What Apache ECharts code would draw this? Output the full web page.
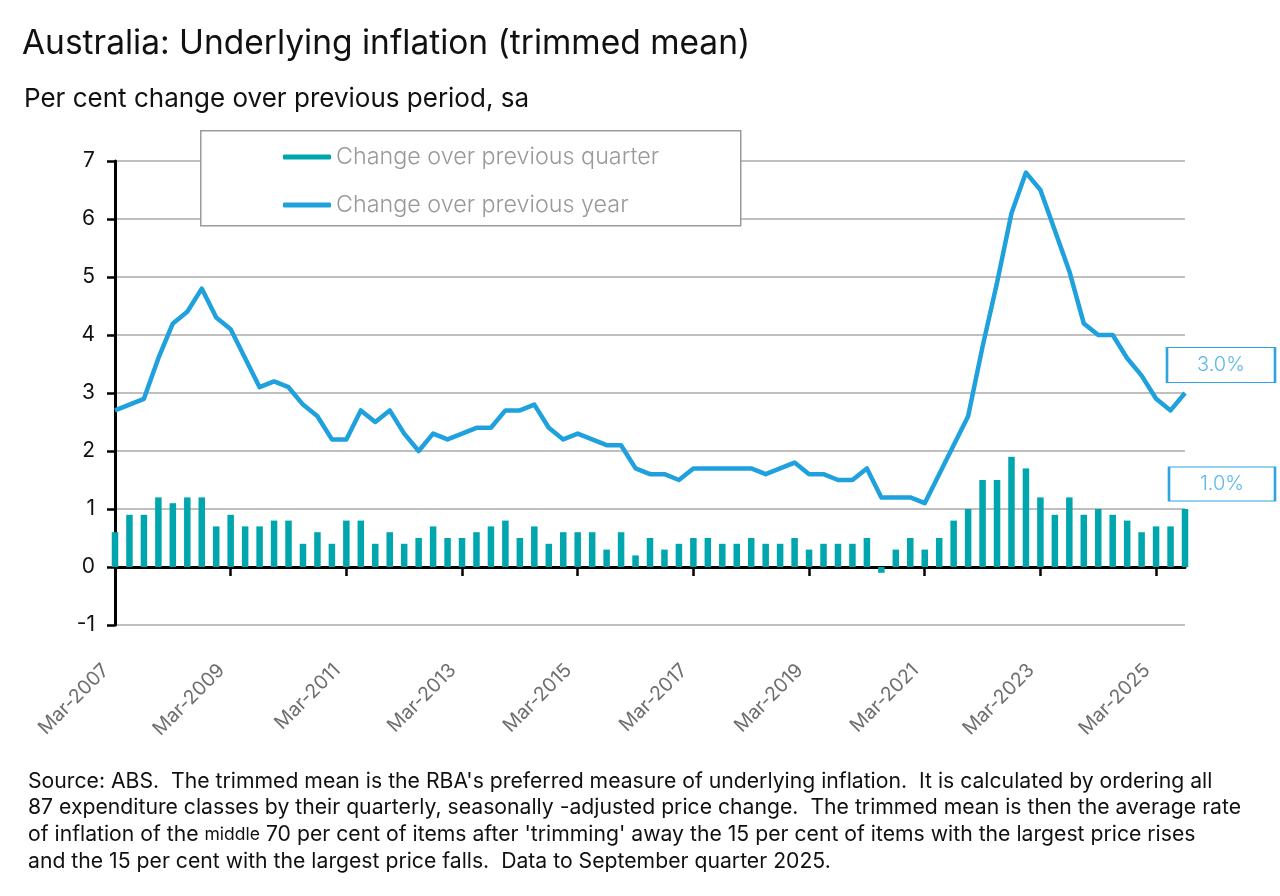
<!DOCTYPE html>
<html>
<head>
<meta charset="utf-8">
<script src="https://cdn.jsdelivr.net/npm/echarts@6/dist/echarts.min.js"></script>
<style>
html,body{margin:0;padding:0;background:#fff;}
#chart{width:1280px;height:896px;}
</style>
</head>
<body>
<div id="chart"></div>
<script>
// ---- data ----
const years = [2007,2008,2009,2010,2011,2012,2013,2014,2015,2016,2017,2018,2019,2020,2021,2022,2023,2024,2025];
const quarterMonths = ['Mar','Jun','Sep','Dec'];
const lastQuarterCount = 3; // data to September quarter 2025

const quarterChange = [
  0.6,0.9,0.9,1.2, 1.1,1.2,1.2,0.7, 0.9,0.7,0.7,0.8, 0.8,0.4,0.6,0.4,
  0.8,0.8,0.4,0.6, 0.4,0.5,0.7,0.5, 0.5,0.6,0.7,0.8, 0.5,0.7,0.4,0.6,
  0.6,0.6,0.3,0.6, 0.2,0.5,0.3,0.4, 0.5,0.5,0.4,0.4, 0.5,0.4,0.4,0.5,
  0.3,0.4,0.4,0.4, 0.5,-0.1,0.3,0.5, 0.3,0.5,0.8,1.0, 1.5,1.5,1.9,1.7,
  1.2,0.9,1.2,0.9, 1.0,0.9,0.8,0.6, 0.7,0.7,1.0
];
const yearChange = [
  2.7,2.8,2.9,3.6, 4.2,4.4,4.8,4.3, 4.1,3.6,3.1,3.2, 3.1,2.8,2.6,2.2,
  2.2,2.7,2.5,2.7, 2.3,2.0,2.3,2.2, 2.3,2.4,2.4,2.7, 2.7,2.8,2.4,2.2,
  2.3,2.2,2.1,2.1, 1.7,1.6,1.6,1.5, 1.7,1.7,1.7,1.7, 1.7,1.6,1.7,1.8,
  1.6,1.6,1.5,1.5, 1.7,1.2,1.2,1.2, 1.1,1.6,2.1,2.6, 3.8,4.9,6.1,6.8,
  6.5,5.8,5.1,4.2, 4.0,4.0,3.6,3.3, 2.9,2.7,3.0
];
const yTicks = {min:-1, max:7, interval:1};
const seriesNames = ['Change over previous quarter','Change over previous year'];
const titleText = 'Australia: Underlying inflation (trimmed mean)';
const subtitleText = 'Per cent change over previous period, sa';
const footLines = [
  "Source: ABS.  The trimmed mean is the RBA's preferred measure of underlying inflation.  It is calculated by ordering all",
  "87 expenditure classes by their quarterly, seasonally -adjusted price change.  The trimmed mean is then the average rate",
  "of inflation of the {s|middle} 70 per cent of items after 'trimming' away the 15 per cent of items with the largest price rises",
  "and the 15 per cent with the largest price falls.  Data to September quarter 2025."
];

// ---- categories ----
const categories = [];
years.forEach((y, yi) => {
  quarterMonths.forEach((m, mi) => {
    if (yi === years.length - 1 && mi >= lastQuarterCount) return;
    categories.push(m + '-' + y);
  });
});
const lastCat = categories[categories.length - 1];
const lastQ = quarterChange[quarterChange.length - 1];
const lastY = yearChange[yearChange.length - 1];

const FONT = 'Inter';
const teal = '#00a6ad';
const blue = '#1ea1dd';
const boxBlue = '#2ea4e0';

const chart = echarts.init(document.getElementById('chart'));
chart.setOption({
  animation: false,
  backgroundColor: '#fff',
  textStyle: {fontFamily: FONT},
  title: [
    {text: titleText, left: 17, top: 22, textStyle: {fontFamily: FONT, fontSize: 33.5, fontWeight: 400, color: '#111'}},
    {text: subtitleText, left: 19, top: 81, textStyle: {fontFamily: FONT, fontSize: 26, fontWeight: 400, color: '#111'}},
    {text: footLines.join('\n'), left: 23, top: 763,
     textStyle: {fontFamily: FONT, fontSize: 21.2, lineHeight: 26.7, fontWeight: 400, color: '#111',
       rich: {s: {fontFamily: FONT, fontSize: 17.5, lineHeight: 26.7, color: '#111'}}}}
  ],
  graphic: [{
    type: 'rect', z: 3, left: 200, top: 130,
    shape: {width: 540, height: 95},
    style: {fill: '#fff', stroke: '#9b9b9b', lineWidth: 1.5}
  }],
  legend: {
    z: 5, orient: 'vertical', left: 278, top: 139, itemGap: 22,
    itemWidth: 48, itemHeight: 5,
    data: [{name: seriesNames[0], icon: 'roundRect'}, {name: seriesNames[1], icon: 'roundRect'}],
    textStyle: {fontFamily: FONT, fontSize: 23.3, fontWeight: 300, color: '#999999', lineHeight: 26}
  },
  grid: {left: 115, right: 95, top: 161, bottom: 271, containLabel: false},
  xAxis: [
    {
      type: 'category', data: categories, boundaryGap: false, position: 'top',
      axisLine: {show: true, onZero: true, lineStyle: {color: '#000', width: 3}},
      axisTick: {show: true, inside: true, interval: 7, length: 9, lineStyle: {color: '#000', width: 2.5}},
      axisLabel: {show: false},
      splitLine: {show: false}
    },
    {
      type: 'category', data: categories, boundaryGap: false, position: 'bottom',
      axisLine: {show: false, onZero: false},
      axisTick: {show: false},
      axisLabel: {show: true, interval: 7, rotate: 45, margin: 33, padding: [0, 13, 0, 0],
        fontFamily: FONT, fontSize: 19.5, color: '#6e6e6e'},
      splitLine: {show: false}
    }
  ],
  yAxis: {
    type: 'value', min: yTicks.min, max: yTicks.max, interval: yTicks.interval,
    axisLine: {show: true, onZero: false, lineStyle: {color: '#000', width: 3}},
    axisTick: {show: true, length: 8, lineStyle: {color: '#000', width: 2.5}},
    axisLabel: {fontFamily: FONT, fontSize: 21, color: '#111', margin: 20},
    splitLine: {show: true, lineStyle: {color: '#aaaaaa', width: 1.5}}
  },
  series: [
    {
      name: seriesNames[0], type: 'bar', xAxisIndex: 0, data: quarterChange,
      barWidth: 6.5, itemStyle: {color: teal}, z: 2,
      markPoint: {
        symbol: 'rect', symbolSize: [106, 34], silent: true,
        data: [{coord: [lastCat, lastQ], symbolOffset: [37, -25]}],
        itemStyle: {color: '#fff', borderColor: boxBlue, borderWidth: 1.5},
        label: {show: true, position: 'inside', formatter: () => lastQ.toFixed(1) + '%',
          fontFamily: FONT, fontSize: 20, fontWeight: 300, color: '#5ab8ea'}
      }
    },
    {
      name: seriesNames[1], type: 'line', xAxisIndex: 0, data: yearChange,
      showSymbol: false, symbol: 'none', z: 3,
      lineStyle: {color: blue, width: 4.5, join: 'round'}, itemStyle: {color: blue},
      markPoint: {
        symbol: 'rect', symbolSize: [108, 35], silent: true,
        data: [{coord: [lastCat, lastY], symbolOffset: [36, -28]}],
        itemStyle: {color: '#fff', borderColor: boxBlue, borderWidth: 1.5},
        label: {show: true, position: 'inside', formatter: () => lastY.toFixed(1) + '%',
          fontFamily: FONT, fontSize: 20, fontWeight: 300, color: '#5ab8ea'}
      }
    }
  ]
});
</script>
</body>
</html>
